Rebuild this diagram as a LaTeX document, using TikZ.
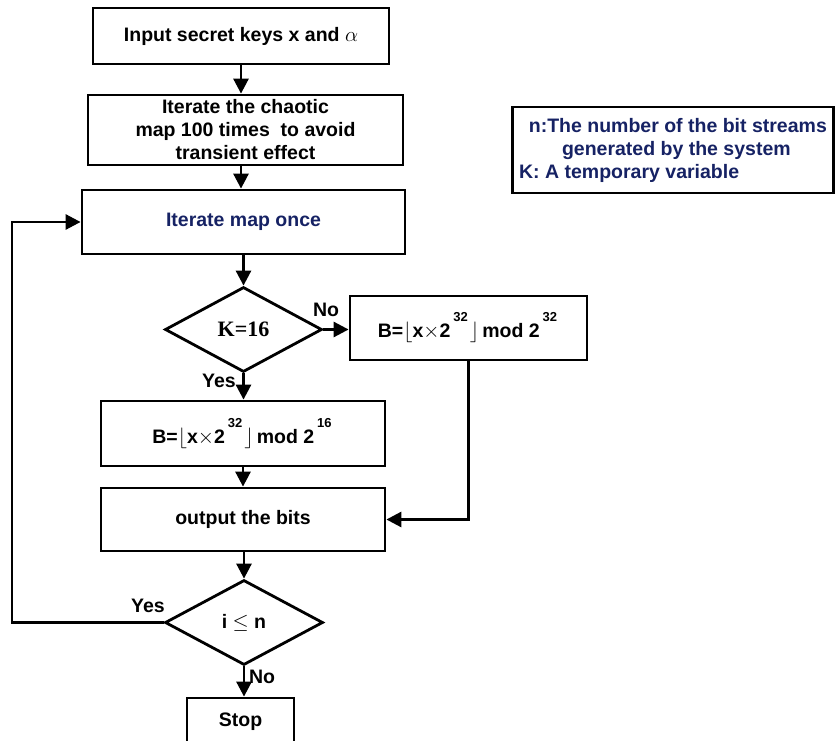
\documentclass[tikz,border=0pt]{standalone}
\usepackage{fontspec}
\setmainfont{Liberation Sans}
\newfontfamily\serifb{Liberation Serif}
\usetikzlibrary{shapes.geometric,arrows.meta}
\definecolor{navy}{RGB}{22,34,100}
\newcommand{\sups}[1]{\kern3pt\raisebox{16pt}{\fontsize{13}{13}\selectfont #1}\kern2pt}
\begin{document}
\begin{tikzpicture}[x=1pt,y=-1pt,line width=2.8pt,
  font=\fontsize{19.5}{23}\selectfont\bfseries,
  box/.style={draw,rectangle,inner sep=0pt,align=center},
  dia/.style={draw,diamond,inner sep=0pt,shape aspect=1.85},
  arr/.style={-{Triangle[length=15pt,width=15pt]}},
  lab/.style={inner sep=0pt}]
\useasboundingbox (0,0) rectangle (835,741);
\node[box,minimum width=296pt,minimum height=56pt] (b1) at (241,36) {\raisebox{-4pt}{Input secret keys x and\ $\alpha$}};
\node[box,minimum width=315pt,minimum height=70pt] (b2) at (245.5,130) {Iterate the chaotic\\map 100 times\ \ to avoid\\transient effect};
\node[box,minimum width=323pt,minimum height=64pt,text=navy] (b3) at (243.5,222) {\raisebox{-2pt}{Iterate map once}};
\node[dia,minimum width=157pt,minimum height=85pt] (d1) at (243.5,329.5) {\serifb\fontsize{22}{22}\selectfont\bfseries K=16};
\node[box,minimum width=237pt,minimum height=64pt] (bno) at (468.5,328) {B=$\lfloor$x$\times$2\sups{32}$\rfloor$\,mod 2\sups{32}};
\node[box,minimum width=284pt,minimum height=65pt] (byes) at (243,433.5) {B=$\lfloor$x$\times$2\sups{32}$\rfloor$\,mod 2\sups{16}};
\node[box,minimum width=284pt,minimum height=63pt] (out) at (243,519.5) {\raisebox{-2pt}{output the bits}};
\node[dia,minimum width=158pt,minimum height=85pt] (d2) at (244,622.5) {i $\leq$ n};
\node[box,minimum width=107pt,minimum height=47pt] (stop) at (240.5,721.5) {Stop};
\node[box,minimum width=321pt,minimum height=86pt,text=navy,align=left,font=\fontsize{19.5}{23}\selectfont\bfseries] (leg) at (673,150)
  {\hspace{0.5em}n:The number of the bit streams\\\hspace{2.2em}generated by the system\\K: A temporary variable};
\coordinate (c1) at (12,622.5);
\coordinate (c2) at (12,222);
\draw[arr] (b1.south) -- (b1.south |- b2.north);
\draw[arr] (b2.south -| b1.south) -- (b3.north -| b1.south);
\draw[arr] (b3.south -| d1) -- (d1.north);
\draw[arr] (d1.east) -- (bno.west |- d1.east);
\draw[arr] (d1.south) -- (d1.south |- byes.north);
\draw[arr] (byes.south) -- (out.north);
\draw[arr] (bno.south) -- (bno.south |- out.east) -- (out.east);
\draw[arr] (out.south -| d2) -- (d2.north);
\draw[arr] (d2.west) -- (c1) -- (c2) -- (b3.west);
\draw[arr] (d2.south) -- (d2.south |- stop.north);
\node[lab] (l1) at (326,310) {No};
\node[lab] (l2) at (219,381) {Yes};
\node[lab] (l3) at (148,606) {Yes};
\node[lab] (l4) at (262,677) {No};
\end{tikzpicture}
\end{document}
